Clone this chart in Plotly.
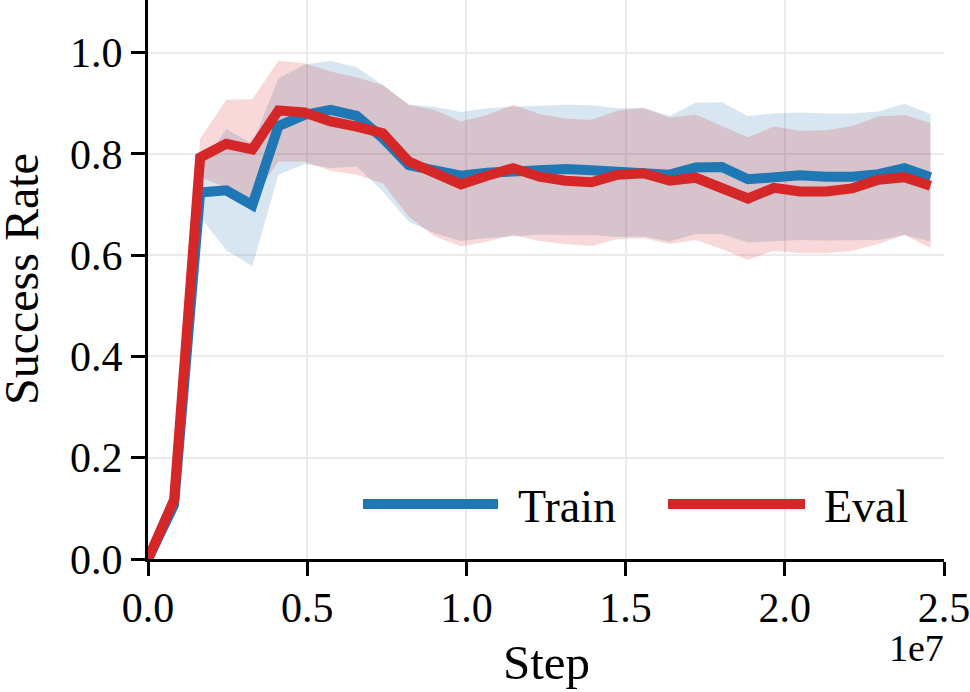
import plotly.graph_objects as go

steps = [0, 819200, 1638400, 2457600, 3276800, 4096000, 4915200, 5734400, 6553600, 7372800,
         8192000, 9011200, 9830400, 10649600, 11468800, 12288000, 13107200, 13926400, 14745600,
         15564800, 16384000, 17203200, 18022400, 18841600, 19660800, 20480000, 21299200,
         22118400, 22937600, 23756800, 24576000]

train_mean = [0.0, 0.107, 0.724, 0.728, 0.699, 0.855, 0.877, 0.887, 0.875, 0.831, 0.778, 0.767,
              0.757, 0.763, 0.766, 0.768, 0.770, 0.768, 0.765, 0.766, 0.759, 0.773, 0.774, 0.750,
              0.755, 0.758, 0.755, 0.755, 0.760, 0.772, 0.754]
train_upper = [0.0, 0.115, 0.772, 0.849, 0.820, 0.949, 0.976, 0.984, 0.971, 0.936, 0.897, 0.893,
               0.883, 0.890, 0.893, 0.895, 0.897, 0.896, 0.890, 0.891, 0.875, 0.901, 0.902, 0.875,
               0.880, 0.882, 0.880, 0.880, 0.884, 0.899, 0.879]
train_lower = [0.0, 0.100, 0.676, 0.610, 0.578, 0.759, 0.780, 0.772, 0.775, 0.726, 0.666, 0.643,
               0.628, 0.634, 0.637, 0.641, 0.640, 0.640, 0.636, 0.637, 0.627, 0.642, 0.642, 0.625,
               0.628, 0.630, 0.629, 0.629, 0.630, 0.640, 0.627]

eval_mean = [0.0, 0.117, 0.793, 0.820, 0.809, 0.886, 0.882, 0.864, 0.854, 0.841, 0.785, 0.763,
             0.740, 0.757, 0.772, 0.755, 0.747, 0.744, 0.759, 0.762, 0.747, 0.753, 0.735, 0.712,
             0.733, 0.726, 0.726, 0.732, 0.749, 0.754, 0.737]
eval_upper = [0.0, 0.125, 0.830, 0.907, 0.908, 0.984, 0.979, 0.963, 0.951, 0.936, 0.897, 0.887,
              0.864, 0.877, 0.897, 0.879, 0.870, 0.867, 0.886, 0.890, 0.872, 0.878, 0.855, 0.833,
              0.854, 0.846, 0.847, 0.855, 0.874, 0.877, 0.861]
eval_lower = [0.0, 0.110, 0.755, 0.733, 0.710, 0.785, 0.785, 0.767, 0.759, 0.742, 0.676, 0.637,
              0.617, 0.627, 0.640, 0.628, 0.622, 0.618, 0.632, 0.634, 0.622, 0.630, 0.612, 0.591,
              0.609, 0.604, 0.604, 0.609, 0.622, 0.640, 0.614]

x_tickvals = [0, 5e6, 1e7, 1.5e7, 2e7, 2.5e7]
x_ticktext = ["0.0", "0.5", "1.0", "1.5", "2.0", "2.5"]
y_tickvals = [0.0, 0.2, 0.4, 0.6, 0.8, 1.0]
y_ticktext = ["0.0", "0.2", "0.4", "0.6", "0.8", "1.0"]

BLUE = "#1f77b4"
RED = "#d62728"
FONT = "Liberation Serif"

fig = go.Figure()

# bands
fig.add_trace(go.Scatter(x=steps + steps[::-1], y=train_upper + train_lower[::-1], fill="toself",
                         fillcolor="rgba(31,119,180,0.18)", line=dict(width=0), mode="lines",
                         hoverinfo="skip", showlegend=False))
fig.add_trace(go.Scatter(x=steps + steps[::-1], y=eval_upper + eval_lower[::-1], fill="toself",
                         fillcolor="rgba(214,39,40,0.18)", line=dict(width=0), mode="lines",
                         hoverinfo="skip", showlegend=False))
# lines
fig.add_trace(go.Scatter(x=steps, y=train_mean, mode="lines", name="Train",
                         line=dict(color=BLUE, width=10), showlegend=False))
fig.add_trace(go.Scatter(x=steps, y=eval_mean, mode="lines", name="Eval",
                         line=dict(color=RED, width=10), showlegend=False))

W, H = 970, 692
L, R, T, B = 148, 26, 0, 133
pw = W - L - R
ph = H - T - B

def px_x(p):
    return (p - L) / pw

def px_y(p):
    return (H - B - p) / ph

axis_common = dict(showline=True, linecolor="black", linewidth=3, ticks="outside", ticklen=14,
                   tickwidth=3, tickcolor="black", showgrid=True, gridcolor="#ebebeb", gridwidth=2,
                   zeroline=False, tickfont=dict(family=FONT, size=42, color="black"), mirror=False,
                   ticklabeloverflow="allow")

fig.update_xaxes(range=[0, 2.5e7], tickvals=x_tickvals, ticktext=x_ticktext, ticklabelstandoff=-4,
                 **axis_common)
fig.update_yaxes(range=[0, 1.104], tickvals=y_tickvals, ticktext=y_ticktext, **axis_common)

annotations = [
    dict(text="Success Rate", x=px_x(21), y=px_y(279), xref="paper", yref="paper", textangle=-90,
         showarrow=False, xanchor="center", yanchor="middle", font=dict(family=FONT, size=48, color="black")),
    dict(text="Step", x=px_x(546), y=px_y(663), xref="paper", yref="paper",
         showarrow=False, xanchor="center", yanchor="middle", font=dict(family=FONT, size=49, color="black")),
    dict(text="1e7", x=px_x(946), y=px_y(648), xref="paper", yref="paper",
         showarrow=False, xanchor="right", yanchor="middle", font=dict(family=FONT, size=38, color="black")),
    dict(text="Train", x=px_x(516), y=px_y(506), xref="paper", yref="paper",
         showarrow=False, xanchor="left", yanchor="middle", font=dict(family=FONT, size=46, color="black")),
    dict(text="Eval", x=px_x(822), y=px_y(506), xref="paper", yref="paper",
         showarrow=False, xanchor="left", yanchor="middle", font=dict(family=FONT, size=46, color="black")),
]

shapes = [
    dict(type="line", xref="paper", yref="paper", x0=px_x(363), x1=px_x(498), y0=px_y(504), y1=px_y(504),
         line=dict(color=BLUE, width=10)),
    dict(type="line", xref="paper", yref="paper", x0=px_x(668), x1=px_x(805), y0=px_y(504), y1=px_y(504),
         line=dict(color=RED, width=10)),
]

fig.update_layout(width=W, height=H, margin=dict(l=L, r=R, t=T, b=B, autoexpand=False),
                  plot_bgcolor="white", paper_bgcolor="white", showlegend=False,
                  annotations=annotations, shapes=shapes, font=dict(family=FONT))

fig.write_html("out.html")
